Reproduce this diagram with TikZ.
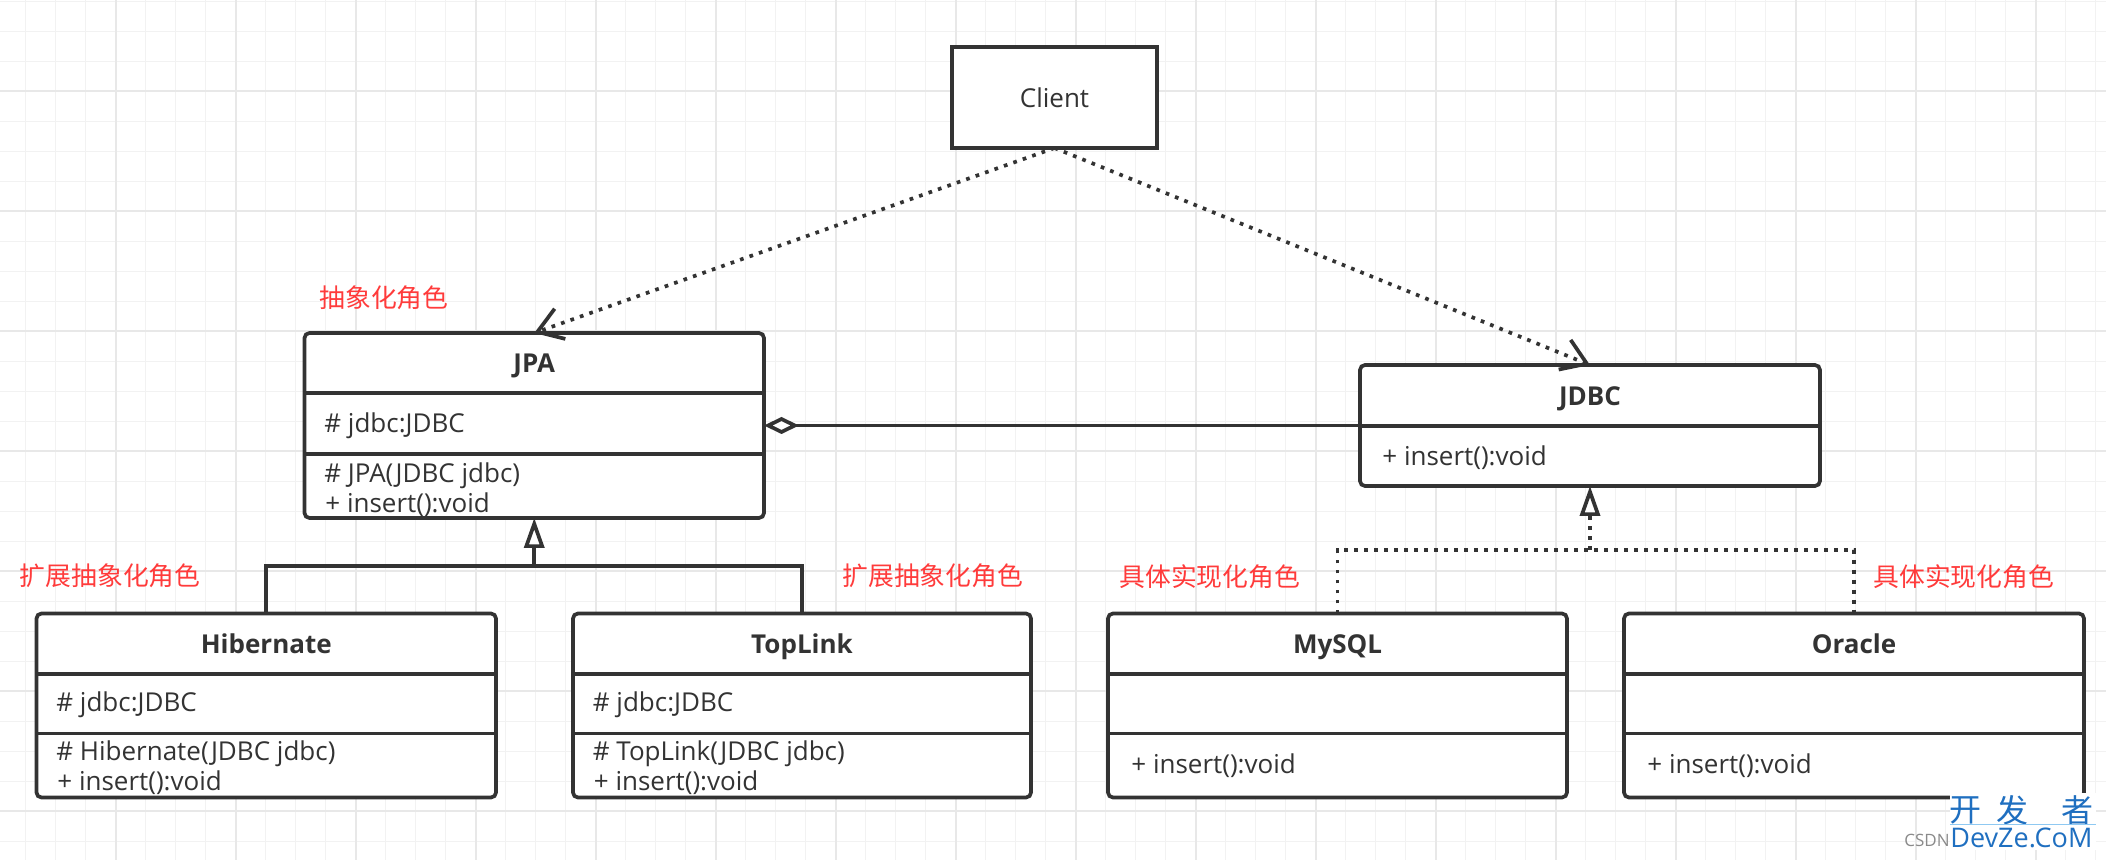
\documentclass[tikz,border=0pt]{standalone}
\usepackage{fontspec}
\setmainfont{Open Sans}
\newfontfamily\cjk{Noto Sans CJK SC}
\usetikzlibrary{arrows.meta}
\definecolor{ink}{HTML}{333333}
\definecolor{lab}{HTML}{FF3B3B}
\definecolor{gridminor}{HTML}{F2F2F2}
\definecolor{gridmajor}{HTML}{E8E8E8}
\definecolor{wm}{HTML}{1F6FC0}
\definecolor{wmline}{HTML}{8FC9F2}
\definecolor{wmgray}{HTML}{8A8A8A}
\begin{document}
\begin{tikzpicture}[x=0.5pt,y=-0.5pt,
  umlbox/.style={draw=ink, line width=1.85pt, fill=white, rounded corners=2.5pt, inner sep=0pt, outer sep=0pt},
  clientbox/.style={draw=ink, line width=1.85pt, fill=white, inner sep=0pt, outer sep=0pt},
  txt/.style={text=ink, font=\fontsize{13pt}{15pt}\selectfont, inner sep=0pt},
  ttl/.style={text=ink, font=\fontsize{13pt}{15pt}\selectfont\bfseries, inner sep=0pt, anchor=base},
  mem/.style={txt, anchor=base west},
  role/.style={text=lab, font=\cjk\fontsize{12.9pt}{15pt}\selectfont, inner sep=0pt, anchor=west},
  solidln/.style={draw=ink, line width=1.85pt},
  dotln/.style={draw=ink, line width=1.85pt, dash pattern=on 1.85pt off 3.15pt},
  depend/.style={dotln, -{Straight Barb[length=12pt,width=16pt]}},
  inherit/.style={solidln, -{Triangle[length=15pt,width=10pt,fill=white]}},
  realize/.style={dotln, -{Triangle[length=15pt,width=10pt,fill=white]}},
  aggr/.style={solidln, {Diamond[length=17.5pt,width=8.5pt,fill=white]}-},
]
\useasboundingbox (0,0) rectangle (2106,860);
\fill[white] (0,0) rectangle (2106,860);
% grid
\foreach \x in {25.5,55.5,...,2106} \draw[gridminor, line width=0.5pt] (\x,0) -- (\x,860);
\foreach \y in {1.7,31.7,...,860} \draw[gridminor, line width=0.5pt] (0,\y) -- (2106,\y);
\foreach \x in {115.5,235.5,...,2106} \draw[gridmajor, line width=1pt] (\x,0) -- (\x,860);
\foreach \y in {90.7,210.7,...,860} \draw[gridmajor, line width=1pt] (0,\y) -- (2106,\y);

% boxes
\node[clientbox, minimum width=102.5pt, minimum height=50.5pt] (client) at (1054.5,97.5) {};
\node[umlbox, minimum width=229.75pt, minimum height=92.5pt] (jpa) at (534.25,425.5) {};
\node[umlbox, minimum width=230pt, minimum height=60.5pt] (jdbc) at (1590,425.5) {};
\node[umlbox, minimum width=229.75pt, minimum height=92pt] (hib) at (266.25,705.5) {};
\node[umlbox, minimum width=229pt, minimum height=92pt] (top) at (802,705.5) {};
\node[umlbox, minimum width=229.5pt, minimum height=92pt] (mysql) at (1337.5,705.5) {};
\node[umlbox, minimum width=230pt, minimum height=92pt] (ora) at (1854,705.5) {};

% dividers
\draw[solidln] (jpa.west |- 0,393) -- (jpa.east |- 0,393);
\draw[solidln] (jpa.west |- 0,454) -- (jpa.east |- 0,454);
\draw[solidln] (jdbc.west |- 0,426) -- (jdbc.east |- 0,426);
\foreach \b in {hib,top,mysql,ora}{
  \draw[solidln] (\b.west |- 0,674) -- (\b.east |- 0,674);
  \draw[solidln] (\b.west |- 0,733.5) -- (\b.east |- 0,733.5);
}

% texts
\node[txt, anchor=base] (clientT) at (1054.5,108) {Client};
\node[ttl] (jpaT) at (534.25,372.5) {JPA};
\node[mem] (jpaA) at (324,433) {\# jdbc:JDBC};
\node[mem] (jpaM1) at (324,482.5) {\# JPA(JDBC jdbc)};
\node[mem] (jpaM2) at (325,512.7) {+ insert():void};
\node[ttl] (jdbcT) at (1590,405.3) {JDBC};
\node[mem] (jdbcM) at (1382,465.3) {+ insert():void};
\node[ttl] (hibT) at (266.25,653.3) {Hibernate};
\node[mem] (hibA) at (56,712) {\# jdbc:JDBC};
\node[mem] (hibM1) at (56,760.5) {\# Hibernate(JDBC jdbc)};
\node[mem] (hibM2) at (57,791) {+ insert():void};
\node[ttl] (topT) at (802,653.3) {TopLink};
\node[mem] (topA) at (592.5,712) {\# jdbc:JDBC};
\node[mem] (topM1) at (592.5,760.5) {\# TopLink(JDBC jdbc)};
\node[mem] (topM2) at (593.5,791) {+ insert():void};
\node[ttl] (mysqlT) at (1337.5,653.3) {MySQL};
\node[mem] (mysqlM) at (1131,773.3) {+ insert():void};
\node[ttl] (oraT) at (1854,653.3) {Oracle};
\node[mem] (oraM) at (1647,773.3) {+ insert():void};

% role labels
\node[role] (r1) at (319,298) {抽象化角色};
\node[role] (r2) at (19.5,576) {扩展抽象化角色};
\node[role] (r3) at (842,576) {扩展抽象化角色};
\node[role] (r4) at (1119,577) {具体实现化角色};
\node[role] (r5) at (1873,577) {具体实现化角色};

% connectors
\draw[depend] (client.south) -- (jpa.north);
\draw[depend] (client.south) -- (jdbc.north);
\draw[aggr] (jpa.east) -- (jdbc.west);

\coordinate (gj) at (534.25,566);
\draw[solidln] (hib.north) -- (hib.north |- gj) -- (top.north |- gj) -- (top.north);
\draw[inherit] (gj) -- (jpa.south);

\coordinate (gr) at (1590,550);
\draw[dotln] (mysql.north) -- (mysql.north |- gr) -- (ora.north |- gr) -- (ora.north);
\draw[realize] (gr) -- (jdbc.south);

% watermark
\fill[white] (1950,793) rectangle (2096,850);
\node[text=wm, font=\cjk\fontsize{16pt}{18pt}\selectfont, inner sep=0pt] (w1) at (1965,810) {开};
\node[text=wm, font=\cjk\fontsize{16pt}{18pt}\selectfont, inner sep=0pt] (w2) at (2012,810) {发};
\node[text=wm, font=\cjk\fontsize{16pt}{18pt}\selectfont, inner sep=0pt] (w3) at (2077,810) {者};
\coordinate (wl1) at (1950,825);
\coordinate (wl2) at (2096,825);
\draw[wmline, line width=0.5pt] (wl1) -- (wl2);
\node[text=wm, font=\fontsize{13.5pt}{15pt}\selectfont, inner sep=0pt, anchor=base west] (w4) at (1950,848) {DevZe.CoM};
\node[text=wmgray, font=\fontsize{8.5pt}{10pt}\selectfont, inner sep=0pt, anchor=base east] (w5) at (1950,847) {CSDN};
\end{tikzpicture}
\end{document}
